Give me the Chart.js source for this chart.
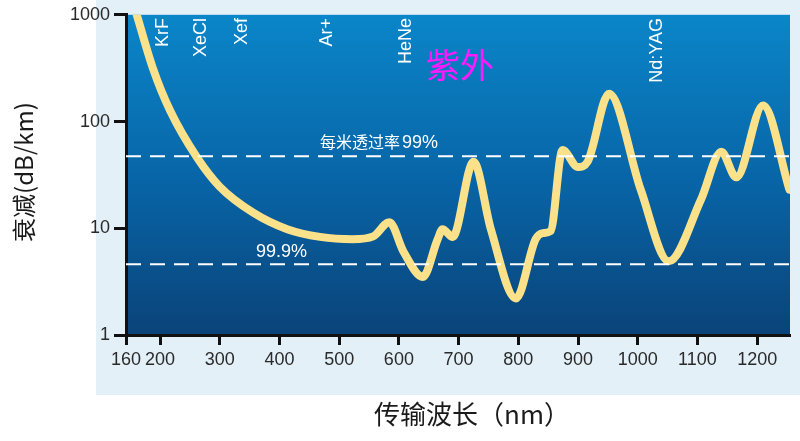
<!DOCTYPE html>
<html>
<head>
<meta charset="utf-8">
<script src="https://cdn.jsdelivr.net/npm/chart.js@4.4.0/dist/chart.umd.min.js"></script>
<style>
  html, body { margin: 0; padding: 0; background: #fff; }
  #wrap { width: 800px; height: 441px; }
</style>
</head>
<body>
<div id="wrap"><canvas id="c" width="800" height="441"></canvas></div>
<script>
// wavelength (nm) and attenuation (dB/km)
const wavelengths = [161, 188, 217, 262, 300, 356, 413, 468, 523, 557, 584, 608, 640, 665, 673, 690, 725, 754, 796, 829, 841, 854, 874, 900, 916, 952, 1005, 1052, 1106, 1140, 1165, 1210, 1254];
const attenuation = [1000, 316, 126, 46, 24.5, 14, 9.8, 8.3, 7.9, 8.4, 11.4, 6.0, 3.5, 7.9, 9.8, 8.3, 42, 9.8, 2.2, 7.9, 9.0, 9.4, 54, 37.5, 42, 182, 23, 4.9, 18.6, 52, 30, 141, 23];

const xTicks = [143, 200, 300, 400, 500, 600, 700, 800, 900, 1000, 1100, 1200];
const xTickText = ['160', '200', '300', '400', '500', '600', '700', '800', '900', '1000', '1100', '1200'];
const yTicks = [1, 10, 100, 1000];

const line99 = 47.4;   // 每米透过率99%
const line999 = 4.6;   // 99.9%

const lasers = ['KrF', 'XeCl', 'Xef', 'Ar+', 'HeNe', 'Nd:YAG'];
const laserNm = [205, 268, 337, 480, 612, 1033];

const xMin = 143, xMax = 1255;

const deco = {
  id: 'deco',
  beforeDraw(chart) {
    const { ctx, chartArea: a } = chart;
    ctx.save();
    ctx.fillStyle = '#e3f0f8';
    ctx.fillRect(96, 0, 704, 395);
    const g = ctx.createLinearGradient(0, a.top, 0, a.bottom);
    g.addColorStop(0, '#0a86c9');
    g.addColorStop(0.5, '#0866a8');
    g.addColorStop(1, '#0a4379');
    ctx.fillStyle = g;
    ctx.fillRect(a.left, a.top, a.right - a.left, a.bottom - a.top);
    ctx.restore();
  },
  afterDraw(chart) {
    const { ctx, scales } = chart;
    const x = scales.x;
    ctx.save();
    ctx.fillStyle = '#fff';
    ctx.font = '18px "Liberation Sans", Arial, sans-serif';
    ctx.textAlign = 'right';
    ctx.textBaseline = 'middle';
    lasers.forEach((t, i) => {
      ctx.save();
      ctx.translate(x.getPixelForValue(laserNm[i]), 18);
      ctx.rotate(-Math.PI / 2);
      ctx.fillText(t, 0, 0);
      ctx.restore();
    });
    ctx.textAlign = 'left';
    ctx.textBaseline = 'alphabetic';
    ctx.font = '16px "Noto Sans CJK SC", sans-serif';
    ctx.fillText('每米透过率', 320, 148);
    ctx.font = '18px "Liberation Sans", Arial, sans-serif';
    ctx.fillText('99%', 402, 148);
    ctx.fillText('99.9%', 256, 257);
    ctx.fillStyle = '#ff1aff';
    ctx.font = '34px "Noto Sans CJK SC", sans-serif';
    ctx.fillText('紫外', 426, 78);
    ctx.fillStyle = '#1a1a1a';
    ctx.font = '26px "Noto Sans CJK SC", sans-serif';
    ctx.textAlign = 'center';
    ctx.fillText('传输波长（nm）', 472, 424);
    ctx.translate(24, 172);
    ctx.rotate(-Math.PI / 2);
    ctx.font = '24px "Noto Sans CJK SC", sans-serif';
    ctx.textBaseline = 'middle';
    ctx.fillText('衰减(dB/km)', 0, 0);
    ctx.restore();
  }
};

new Chart(document.getElementById('c'), {
  type: 'line',
  data: {
    datasets: [
      {
        data: [{ x: xMin, y: line99 }, { x: xMax, y: line99 }],
        borderColor: '#fff', borderWidth: 2, borderDash: [15, 9], pointRadius: 0
      },
      {
        data: [{ x: xMin, y: line999 }, { x: xMax, y: line999 }],
        borderColor: '#fff', borderWidth: 2, borderDash: [15, 9], pointRadius: 0
      },
      {
        data: wavelengths.map((w, i) => ({ x: w, y: attenuation[i] })),
        borderColor: '#fbe28a', borderWidth: 8, pointRadius: 0,
        cubicInterpolationMode: 'monotone', borderCapStyle: 'round', borderJoinStyle: 'round'
      }
    ]
  },
  options: {
    responsive: false,
    animation: false,
    layout: { padding: { top: 12, right: 10, left: 0, bottom: 0 } },
    plugins: { legend: { display: false }, tooltip: { enabled: false } },
    scales: {
      x: {
        type: 'linear', min: xMin, max: xMax,
        afterBuildTicks: s => { s.ticks = xTicks.map(v => ({ value: v })); },
        afterFit: s => { s.height = 106; },
        ticks: {
          callback: (v, i) => xTickText[i],
          color: '#2a2a2a', font: { size: 18, family: '"Liberation Sans", Arial' }, padding: 4, maxRotation: 0
        },
        grid: { drawOnChartArea: false, tickLength: 10, tickWidth: 3, color: '#111' },
        border: { color: '#111', width: 3 }
      },
      y: {
        type: 'logarithmic', min: 1, max: 1000,
        afterBuildTicks: s => { s.ticks = yTicks.map(v => ({ value: v })); },
        afterFit: s => { s.width = 126; },
        ticks: {
          callback: v => String(v),
          color: '#2a2a2a', font: { size: 18, family: '"Liberation Sans", Arial' }, padding: 4
        },
        grid: { drawOnChartArea: false, tickLength: 12, tickWidth: 3, color: '#111' },
        border: { color: '#111', width: 3 }
      }
    }
  },
  plugins: [deco]
});
</script>
</body>
</html>
